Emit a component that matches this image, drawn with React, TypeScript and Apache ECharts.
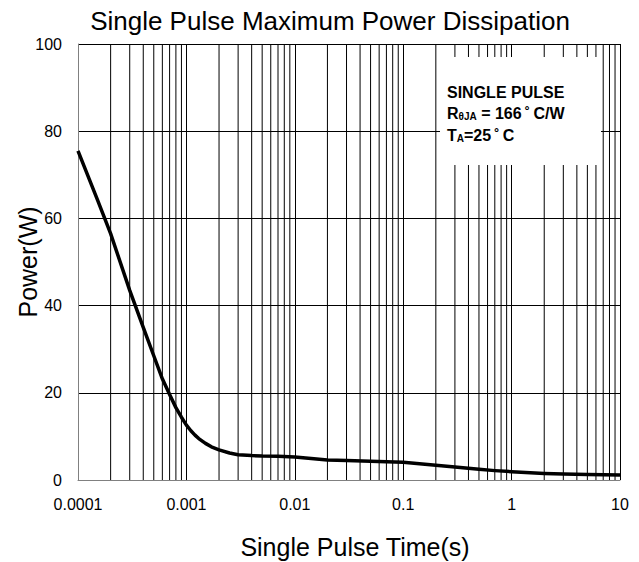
import React, { useEffect, useRef } from "react";
import * as echarts from "echarts";

const titleText = "Single Pulse Maximum Power Dissipation";
const xName = "Single Pulse Time(s)";
const yName = "Power(W)";

const timeS = [0.0001, 0.00015, 0.0002, 0.0003, 0.0004, 0.0005, 0.0006, 0.0007, 0.0008, 0.0009, 0.001, 0.0011, 0.0012, 0.0013, 0.0015, 0.0017, 0.002, 0.0025, 0.003, 0.004, 0.005, 0.007, 0.01, 0.015, 0.02, 0.03, 0.05, 0.07, 0.1, 0.2, 0.3, 0.5, 0.7, 1, 2, 3, 5, 10];
const powerW = [75.5, 64.5, 56.5, 43.5, 35, 28.5, 23.2, 19.6, 16.6, 14.4, 12.6, 11.3, 10.3, 9.5, 8.4, 7.6, 6.9, 6.2, 5.8, 5.6, 5.5, 5.45, 5.3, 4.9, 4.6, 4.45, 4.3, 4.2, 4.05, 3.4, 3.0, 2.45, 2.15, 1.9, 1.5, 1.35, 1.25, 1.15];

const minorMultipliers = [2, 3, 4, 5, 6, 7, 8, 9];
const decades = [0.0001, 0.001, 0.01, 0.1, 1];

const annotationLines = ["SINGLE PULSE", "R{s|θJA} = 166\u2009˚\u2009C/W", "T{s|A}=25\u2009˚\u2009C"];

export default function App() {
  const ref = useRef<HTMLDivElement>(null);
  useEffect(() => {
    if (!ref.current) return;
    const chart = echarts.init(ref.current, undefined, { renderer: "svg" });
    const minorValues: number[][] = [];
    decades.forEach((d) => minorMultipliers.forEach((m) => minorValues.push([+(d * m).toPrecision(3), 0])));
    const font = "Liberation Sans, Arial, sans-serif";
    chart.setOption({
      animation: false,
      textStyle: { fontFamily: font },
      grid: { left: 78, right: 19, top: 44, bottom: 82, containLabel: false, outerBoundsMode: "none" },
      xAxis: {
        type: "log",
        logBase: 10,
        min: 0.0001,
        max: 10,
        name: xName,
        nameLocation: "middle",
        nameGap: 54,
        nameMoveOverlap: false,
        nameTextStyle: { fontSize: 25, color: "#000", fontFamily: font, padding: [0, 0, 0, 12] },
        axisLine: { show: true, lineStyle: { color: "#808080", width: 1 } },
        axisTick: { show: false },
        axisLabel: {
          fontSize: 16,
          color: "#000",
          margin: 16,
          fontFamily: font,
          formatter: (v: number) => String(+v.toPrecision(3)),
        },
        splitLine: { show: true, lineStyle: { color: "#000", width: 1 } },
      },
      yAxis: {
        type: "value",
        min: 0,
        max: 100,
        interval: 20,
        name: yName,
        nameLocation: "middle",
        nameRotate: 90,
        nameGap: 38,
        nameMoveOverlap: false,
        nameTextStyle: { fontSize: 25, color: "#000", fontFamily: font },
        axisLine: { show: true, lineStyle: { color: "#808080", width: 1 } },
        axisTick: { show: false },
        axisLabel: { fontSize: 16, color: "#000", margin: 16, fontFamily: font },
        splitLine: { show: true, lineStyle: { color: "#000", width: 1 } },
      },
      series: [
        {
          type: "custom",
          silent: true,
          z: 1,
          data: minorValues,
          encode: { x: 0, y: 1 },
          renderItem: (params: any, api: any) => {
            const v = api.value(0);
            const p1 = api.coord([v, 0]);
            const p2 = api.coord([v, 100]);
            return {
              type: "line",
              shape: { x1: p1[0], y1: p1[1], x2: p2[0], y2: p2[1] },
              style: { stroke: "#000", lineWidth: 1 },
            };
          },
        },
        {
          type: "line",
          data: timeS.map((t, i) => [t, powerW[i]]),
          showSymbol: false,
          smooth: false,
          lineStyle: { color: "#000", width: 3.5, join: "round" },
          z: 5,
        },
      ],
      graphic: [
        {
          type: "text",
          x: 330,
          y: 21,
          style: { text: titleText, font: `26px ${font}`, fill: "#000", align: "center", verticalAlign: "middle" },
        },
        {
          type: "rect",
          z: 100,
          shape: { x: 440, y: 57, width: 161, height: 108 },
          style: { fill: "#fff" },
        },
        ...annotationLines.map((line, i) => ({
          type: "text",
          z: 101,
          x: 447,
          y: 100 + i * 21.5,
          style: {
            text: line,
            fill: "#000",
            fontFamily: font,
            fontSize: 16,
            fontWeight: "bold",
            verticalAlign: "bottom",
            rich: { s: { fontSize: 10, fontWeight: "bold", fontFamily: font, fill: "#000", verticalAlign: "bottom" } },
          },
        })),
      ],
    });
    return () => chart.dispose();
  }, []);
  return <div ref={ref} style={{ position: "absolute", left: 0, top: 0, width: 639, height: 562 }} />;
}
